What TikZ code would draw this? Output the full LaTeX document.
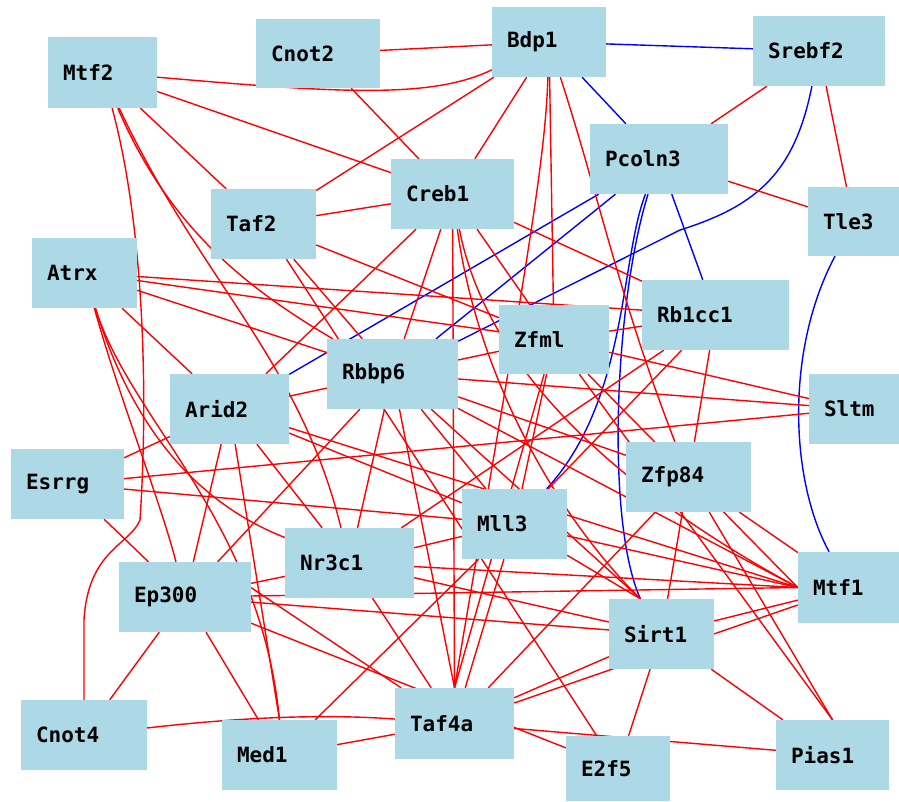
\documentclass[tikz,border=0pt]{standalone}
\usepackage{fontspec}
\setmonofont{DejaVu Sans Mono}
\usetikzlibrary{backgrounds}
\definecolor{nodeblue}{RGB}{173,216,230}
\definecolor{ered}{RGB}{255,0,0}
\definecolor{eblue}{RGB}{0,0,255}
\tikzset{
  gbox/.style={rectangle, fill=nodeblue, draw=none, inner xsep=15pt, inner ysep=0pt, align=left,
    font=\ttfamily\bfseries\fontsize{21}{22}\selectfont, text=black},
  redge/.style={draw=ered, line width=1.4pt},
  bedge/.style={draw=eblue, line width=1.4pt}
}
\newcommand{\gnode}[6]{% name, text, x1, x2, y1, y2
  \pgfmathsetmacro{\gw}{#4-#3}\pgfmathsetmacro{\gh}{#6-#5}
  \pgfmathsetmacro{\gtw}{#4-#3-30}
  \node[gbox, minimum width=\gw pt, minimum height=\gh pt, text width=\gtw pt] (#1) at ({(#3+#4)/2},{(#5+#6)/2}) {\raisebox{-7pt}{#2}};
}
\begin{document}
\begin{tikzpicture}[x=1pt,y=-1pt]
\useasboundingbox (0,0) rectangle (899,801);
\gnode{mtf2}{Mtf2}{48}{157}{37}{108}
\gnode{cnot2}{Cnot2}{256}{380}{19}{88}
\gnode{bdp1}{Bdp1}{492}{606}{7}{77}
\gnode{srebf2}{Srebf2}{753}{885}{16}{86}
\gnode{pcoln3}{Pcoln3}{590}{728}{124}{194}
\gnode{creb1}{Creb1}{391}{514}{159}{229}
\gnode{taf2}{Taf2}{211}{316}{189}{259}
\gnode{tle3}{Tle3}{808}{899}{187}{256}
\gnode{atrx}{Atrx}{32}{137}{238}{308}
\gnode{rb1cc1}{Rb1cc1}{642}{789}{280}{350}
\gnode{zfml}{Zfml}{499}{609}{305}{374}
\gnode{rbbp6}{Rbbp6}{327}{458}{339}{409}
\gnode{arid2}{Arid2}{170}{289}{374}{444}
\gnode{sltm}{Sltm}{809}{899}{374}{444}
\gnode{esrrg}{Esrrg}{11}{124}{449}{519}
\gnode{zfp84}{Zfp84}{626}{751}{442}{512}
\gnode{mll3}{Mll3}{462}{567}{489}{559}
\gnode{nr3c1}{Nr3c1}{285}{414}{528}{598}
\gnode{ep300}{Ep300}{119}{251}{562}{632}
\gnode{mtf1}{Mtf1}{798}{899}{552}{623}
\gnode{sirt1}{Sirt1}{609}{714}{599}{669}
\gnode{cnot4}{Cnot4}{21}{147}{700}{770}
\gnode{med1}{Med1}{222}{337}{720}{790}
\gnode{taf4a}{Taf4a}{395}{514}{688}{759}
\gnode{e2f5}{E2f5}{566}{670}{736}{801}
\gnode{pias1}{Pias1}{776}{889}{720}{790}
\begin{scope}[on background layer]
% blue edges
\draw[bedge] (bdp1) -- (srebf2);
\draw[bedge] (bdp1) -- (pcoln3);
\draw[bedge] (pcoln3) -- (rb1cc1);
\draw[bedge] (pcoln3) -- (arid2);
\draw[bedge] (pcoln3) -- (rbbp6);
\draw[bedge] (srebf2) .. controls (795,170) and (760,205) .. (680,230) -- (rbbp6);
\draw[bedge] (pcoln3) .. controls (620,260) and (628,400) .. (mll3);
\draw[bedge] (pcoln3) .. controls (615,300) and (605,520) .. (sirt1.121);
\draw[bedge] (tle3) .. controls (785,350) and (790,480) .. (mtf1);
% red edges
\draw[redge] (mtf2) .. controls (330,92) and (430,100) .. (bdp1);
\draw[redge] (mtf2) -- (creb1);
\draw[redge] (mtf2) -- (taf2);
\draw[redge] (mtf2) .. controls (145,230) and (148,400) .. (140,520) .. controls (130,545) and (88,550) .. (84,620) -- (cnot4);
\draw[redge] (mtf2) .. controls (170,230) and (250,290) .. (rbbp6);
\draw[redge] (mtf2) .. controls (200,280) and (300,360) .. (nr3c1);
\draw[redge] (cnot2) -- (bdp1);
\draw[redge] (cnot2) -- (creb1);
\draw[redge] (bdp1) -- (taf2);
\draw[redge] (bdp1) -- (creb1);
\draw[redge] (bdp1) -- (zfml);
\draw[redge] (bdp1) .. controls (545,170) and (520,300) .. (taf4a.north);
\draw[redge] (bdp1) .. controls (600,200) and (620,300) .. (zfp84);
\draw[redge] (srebf2) -- (pcoln3);
\draw[redge] (srebf2) -- (tle3);
\draw[redge] (pcoln3) -- (tle3);
\draw[redge] (creb1) -- (taf2);
\draw[redge] (creb1) -- (rb1cc1);
\draw[redge] (creb1) -- (rbbp6);
\draw[redge] (creb1) -- (arid2);
\draw[redge] (creb1) -- (taf4a.north);
\draw[redge] (creb1) .. controls (478,380) and (560,520) .. (sirt1.121);
\draw[redge] (creb1) .. controls (485,360) and (600,480) .. (mtf1.west);
\draw[redge] (creb1) -- (zfml);
\draw[redge] (taf2) -- (zfml);
\draw[redge] (taf2) -- (rbbp6);
\draw[redge] (taf2) -- (e2f5);
\draw[redge] (atrx) -- (rb1cc1);
\draw[redge] (atrx) -- (zfml);
\draw[redge] (atrx) -- (rbbp6);
\draw[redge] (atrx) -- (arid2);
\draw[redge] (atrx) .. controls (120,400) and (160,500) .. (ep300);
\draw[redge] (atrx) .. controls (130,420) and (260,520) .. (med1.north);
\draw[redge] (atrx) .. controls (130,420) and (190,500) .. (nr3c1);
\draw[redge] (esrrg) -- (arid2);
\draw[redge] (esrrg) -- (sltm);
\draw[redge] (esrrg) -- (mll3);
\draw[redge] (esrrg) -- (ep300);
\draw[redge] (arid2) -- (rbbp6);
\draw[redge] (arid2) -- (mll3);
\draw[redge] (arid2) -- (ep300);
\draw[redge] (arid2) -- (med1.north);
\draw[redge] (arid2) -- (nr3c1);
\draw[redge] (arid2) -- (mtf1.west);
\draw[redge] (rbbp6) -- (zfml);
\draw[redge] (rbbp6) -- (sltm);
\draw[redge] (rbbp6) -- (zfp84);
\draw[redge] (rbbp6) -- (mtf1.west);
\draw[redge] (rbbp6) -- (sirt1.121);
\draw[redge] (rbbp6) -- (nr3c1);
\draw[redge] (rbbp6) -- (ep300);
\draw[redge] (rbbp6) -- (taf4a.north);
\draw[redge] (rbbp6) -- (mll3);
\draw[redge] (zfml) -- (rb1cc1);
\draw[redge] (zfml) -- (sltm);
\draw[redge] (zfml) -- (mll3);
\draw[redge] (zfml) -- (pias1.north);
\draw[redge] (zfml) -- (mtf1.west);
\draw[redge] (zfml) -- (taf4a.north);
\draw[redge] (rb1cc1) -- (zfp84);
\draw[redge] (rb1cc1) -- (mll3);
\draw[redge] (rb1cc1) -- (nr3c1);
\draw[redge] (zfp84) -- (taf4a);
\draw[redge] (zfp84) -- (sirt1);
\draw[redge] (zfp84) -- (pias1.north);
\draw[redge] (zfp84) -- (mtf1);
\draw[redge] (mll3) -- (nr3c1);
\draw[redge] (mll3) -- (taf4a);
\draw[redge] (mll3) -- (mtf1.west);
\draw[redge] (mll3) -- (sirt1.121);
\draw[redge] (mll3) -- (med1);
\draw[redge] (nr3c1) -- (ep300);
\draw[redge] (nr3c1) -- (taf4a);
\draw[redge] (nr3c1) -- (mtf1.west);
\draw[redge] (nr3c1) -- (sirt1);
\draw[redge] (ep300) -- (sirt1);
\draw[redge] (ep300) -- (mtf1.west);
\draw[redge] (ep300.8) -- (taf4a);
\draw[redge] (ep300) -- (e2f5);
\draw[redge] (ep300) -- (cnot4);
\draw[redge] (ep300) -- (med1);
\draw[redge] (sirt1) -- (taf4a);
\draw[redge] (sirt1) -- (e2f5);
\draw[redge] (sirt1) -- (mtf1);
\draw[redge] (sirt1) -- (pias1);
\draw[redge] (taf4a) -- (mtf1);
\draw[redge] (taf4a) -- (pias1);
\draw[redge] (taf4a) -- (med1);
\draw[redge] (taf4a) .. controls (300,712) and (200,722) .. (cnot4);
\end{scope}
\end{tikzpicture}
\end{document}
